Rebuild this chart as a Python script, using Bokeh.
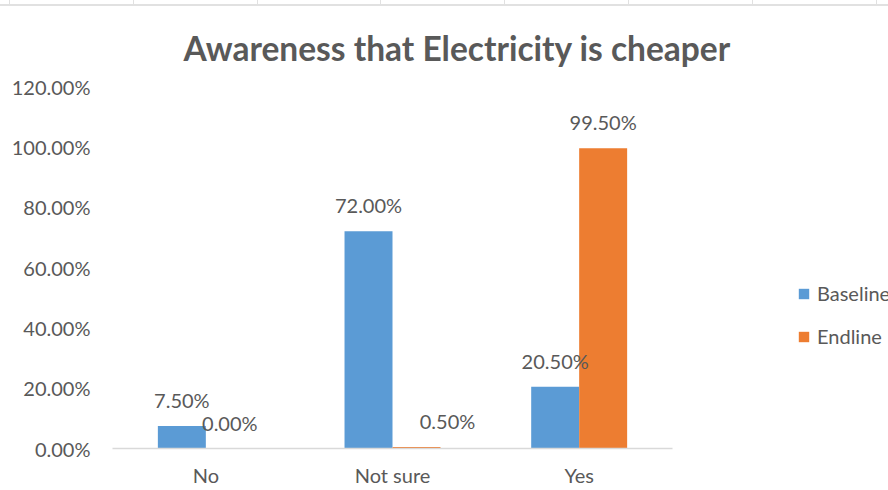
from bokeh.plotting import figure
from bokeh.models import Range1d, Legend, LegendItem, ColumnDataSource, FixedTicker, Div
from bokeh.layouts import column
from bokeh.core.properties import value
from bokeh.embed import file_html
from bokeh.resources import INLINE

# ---- data ----
categories = ["No", "Not sure", "Yes"]
baseline = [7.5, 72.0, 20.5]
endline = [0.0, 0.5, 99.5]
series_names = ["Baseline", "Endline"]
series_colors = ["#5B9BD5", "#ED7D31"]
y_ticks = [0, 20, 40, 60, 80, 100, 120]
y_tick_labels = ["0.00%", "20.00%", "40.00%", "60.00%", "80.00%", "100.00%", "120.00%"]
title_text = "Awareness that Electricity is cheaper"

TEXT = "#595959"
FONT = "Lato"

n = len(categories)
cat_x = [i + 0.5 for i in range(n)]
bw = 0.257
off = bw / 2

src = ColumnDataSource(dict(
    xb=[c - off for c in cat_x],
    xe=[c + off for c in cat_x],
    base=baseline,
    end=endline,
    base_lbl=["%.2f%%" % v for v in baseline],
    end_lbl=["%.2f%%" % v for v in endline],
    base_dx=[0, 0, 0],
    end_dx=[0, 31, 0],   # the "Not sure" endline label is nudged right in the original
))

# frame spans 112..888 px; each category slot is ~186.7 px wide
p = figure(
    width=888, height=484,
    x_range=Range1d(0, n * 776 / 560.0),
    y_range=Range1d(0, 120),
    output_backend="svg", toolbar_location=None,
    min_border_left=112, min_border_right=0,
    min_border_top=77, min_border_bottom=42,
    title=title_text,
)
p.outline_line_color = None
p.background_fill_color = "white"
p.border_fill_color = "white"

p.title.text_font = FONT
p.title.text_font_size = "33.5px"
p.title.text_font_style = "bold"
p.title.text_color = TEXT
p.title.align = "left"
p.title.offset = 71
p.title.standoff = 38

r1 = p.vbar(x="xb", top="base", width=bw, source=src,
            fill_color=series_colors[0], line_color=None)
r2 = p.vbar(x="xe", top="end", width=bw, source=src,
            fill_color=series_colors[1], line_color=None)

for xcol, col, lbl, dx in [("xb", "base", "base_lbl", "base_dx"), ("xe", "end", "end_lbl", "end_dx")]:
    p.text(x=xcol, y=col, text=lbl, source=src, x_offset=dx,
           text_align="center", text_baseline="alphabetic", y_offset=-26,
           text_font=value(FONT), text_font_size="20px", text_color=TEXT)

p.xgrid.grid_line_color = None
p.ygrid.grid_line_color = None

xa = p.xaxis[0]
xa.ticker = FixedTicker(ticks=cat_x)
xa.major_label_overrides = {x: c for x, c in zip(cat_x, categories)}
xa.bounds = (0, n)
xa.axis_line_color = "#D9D9D9"
xa.axis_line_width = 1.5
xa.major_tick_line_color = None
xa.minor_tick_line_color = None
xa.major_tick_out = 0
xa.major_tick_in = 0
xa.minor_tick_out = 0
xa.major_label_text_font = FONT
xa.major_label_text_font_size = "20px"
xa.major_label_text_color = TEXT
xa.major_label_standoff = 14

ya = p.yaxis[0]
ya.ticker = FixedTicker(ticks=y_ticks)
ya.major_label_overrides = {t: l for t, l in zip(y_ticks, y_tick_labels)}
ya.axis_line_color = None
ya.major_tick_line_color = None
ya.minor_tick_line_color = None
ya.major_tick_out = 0
ya.major_tick_in = 0
ya.minor_tick_out = 0
ya.major_label_text_font = FONT
ya.major_label_text_font_size = "20px"
ya.major_label_text_color = TEXT
ya.major_label_standoff = 22

legend = Legend(
    items=[LegendItem(label=series_names[0], renderers=[r1]),
           LegendItem(label=series_names[1], renderers=[r2])],
    location=(685, 100),
    orientation="vertical",
    padding=0, margin=0, spacing=19,
    glyph_width=13, glyph_height=13, label_height=22,
    label_standoff=7,
    label_text_font=FONT, label_text_font_size="20px", label_text_color=TEXT,
    border_line_color=None, background_fill_alpha=0,
)
p.add_layout(legend)

top = Div(width=888, height=6, margin=0, styles={
    "box-sizing": "border-box",
    "border-bottom": "2px solid #E1E1E1",
    "background-image": "repeating-linear-gradient(to right, transparent 0px, transparent 9px, #E1E1E1 9px, #E1E1E1 10px, transparent 10px, transparent 123.8px)",
})

layout = column(top, p, spacing=0, margin=0)

open("out.html", "w").write(file_html(layout, INLINE))
